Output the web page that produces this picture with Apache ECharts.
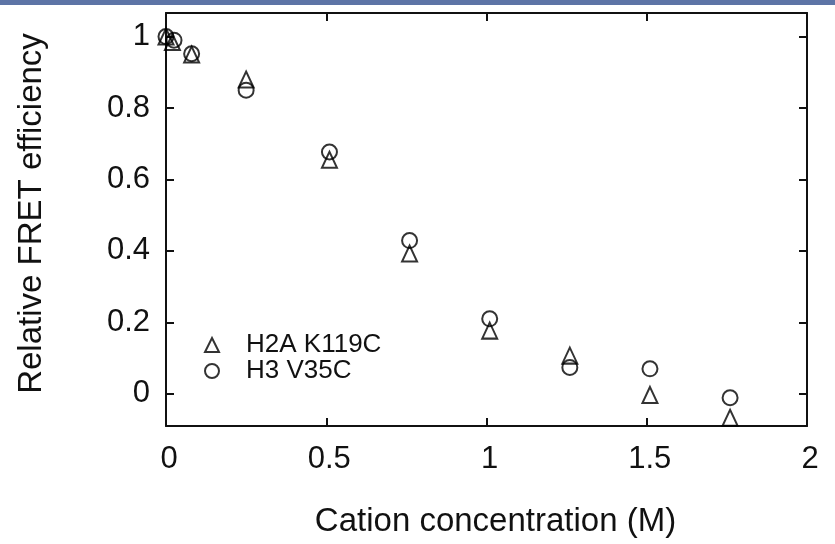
<!DOCTYPE html>
<html>
<head>
<meta charset="utf-8">
<script src="https://cdn.jsdelivr.net/npm/echarts@6/dist/echarts.min.js"></script>
<style>
html,body{margin:0;padding:0;background:#fff;}
#main{width:835px;height:544px;}
</style>
</head>
<body>
<div id="main"></div>
<script>
var seriesNames = ['H2A K119C', 'H3 V35C'];
var h2aX = [0, 0.02, 0.08, 0.25, 0.51, 0.76, 1.01, 1.26, 1.51, 1.76];
var h2aY = [1.0, 0.985, 0.95, 0.88, 0.655, 0.393, 0.177, 0.107, -0.003, -0.067];
var h3X = [0, 0.025, 0.08, 0.25, 0.51, 0.76, 1.01, 1.26, 1.51, 1.76];
var h3Y = [1.0, 0.99, 0.952, 0.85, 0.677, 0.429, 0.21, 0.074, 0.07, -0.011];
var xTicks = [0, 0.5, 1, 1.5, 2];
var yTicks = [0, 0.2, 0.4, 0.6, 0.8, 1];
var xTitle = 'Cation concentration (M)';
var yTitle = 'Relative FRET efficiency';

function pairs(xs, ys) { return xs.map(function (x, i) { return [x, ys[i]]; }); }

var FONT = '"Liberation Sans", Arial, sans-serif';
var lineStyle = { color: '#111', width: 2 };
var chart = echarts.init(document.getElementById('main'));
var mk = { color: 'transparent', borderColor: '#000', borderWidth: 2 };
chart.setOption({
  animation: false,
  backgroundColor: '#fff',
  graphic: [{
    type: 'rect', left: 0, top: 0, shape: { width: 835, height: 5 },
    style: { fill: '#5d74a6' }, z: 100
  }],
  grid: { left: 166, right: 28, top: 13, bottom: 118 },
  legend: {
    orient: 'vertical', left: 199, top: 327, itemGap: 0,
    itemWidth: 14, itemHeight: 14,
    textStyle: { fontFamily: FONT, fontSize: 26, color: '#111', lineHeight: 25, padding: [0, 0, 0, 22] },
    data: [
      { name: seriesNames[0], icon: 'triangle', itemStyle: { color: 'transparent', borderColor: '#000', borderWidth: 2 } },
      { name: seriesNames[1], icon: 'circle', itemStyle: { color: 'transparent', borderColor: '#000', borderWidth: 2 } }
    ]
  },
  xAxis: [{
    type: 'value', min: 0, max: 2, position: 'bottom',
    name: xTitle, nameLocation: 'middle', nameGap: 79,
    nameTextStyle: { fontFamily: FONT, fontSize: 33, color: '#111', padding: [0, 0, 0, 18] },
    axisLine: { show: true, onZero: false, lineStyle: lineStyle },
    axisTick: { show: true, inside: true, length: 8, lineStyle: lineStyle, customValues: xTicks },
    axisLabel: { fontFamily: FONT, fontSize: 31, color: '#111', margin: 18, customValues: xTicks,
      padding: [0, 0, 0, 6],
      formatter: function (v) { return String(v); } },
    splitLine: { show: false }
  }, {
    type: 'value', min: 0, max: 2, position: 'top',
    axisLine: { show: true, onZero: false, lineStyle: lineStyle },
    axisTick: { show: true, inside: true, length: 8, lineStyle: lineStyle, customValues: xTicks },
    axisLabel: { show: false },
    splitLine: { show: false }
  }],
  yAxis: [{
    type: 'value', min: -0.09, max: 1.066, position: 'left',
    name: yTitle, nameLocation: 'middle', nameGap: 118,
    nameTextStyle: { fontFamily: FONT, fontSize: 33, color: '#111', padding: [0, 0, 0, 12] },
    axisLine: { show: true, onZero: false, lineStyle: lineStyle },
    axisTick: { show: true, inside: true, length: 8, lineStyle: lineStyle, customValues: yTicks },
    axisLabel: { fontFamily: FONT, fontSize: 31, color: '#111', margin: 16, customValues: yTicks,
      formatter: function (v) { return String(Math.round(v * 10) / 10); } },
    splitLine: { show: false }
  }, {
    type: 'value', min: -0.09, max: 1.066, position: 'right',
    axisLine: { show: true, onZero: false, lineStyle: lineStyle },
    axisTick: { show: true, inside: true, length: 8, lineStyle: lineStyle, customValues: yTicks },
    axisLabel: { show: false },
    splitLine: { show: false }
  }],
  series: [{
    name: seriesNames[0], type: 'scatter', symbol: 'triangle', symbolSize: [15, 16],
    itemStyle: mk, data: pairs(h2aX, h2aY), z: 3
  }, {
    name: seriesNames[1], type: 'scatter', symbol: 'circle', symbolSize: 15,
    itemStyle: mk, data: pairs(h3X, h3Y), z: 3
  }]
});
</script>
</body>
</html>
